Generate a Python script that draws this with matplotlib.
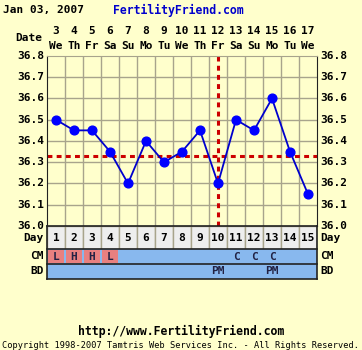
import matplotlib
matplotlib.use("Agg")
import matplotlib.pyplot as plt

# chart data
days = list(range(1, 16))
dates = [3, 4, 5, 6, 7, 8, 9, 10, 11, 12, 13, 14, 15, 16, 17]
weekdays = ["We", "Th", "Fr", "Sa", "Su", "Mo", "Tu", "We", "Th", "Fr", "Sa", "Su", "Mo", "Tu", "We"]
temps = [36.5, 36.45, 36.45, 36.35, 36.2, 36.4, 36.3, 36.35, 36.45, 36.2, 36.5, 36.45, 36.6, 36.35, 36.15]
coverline = 36.33
ovulation_day = 10
cm = ["L", "H", "H", "L", "", "", "", "", "", "", "C", "C", "C", "", ""]
bd = ["", "", "", "", "", "", "", "", "", "PM", "", "", "PM", "", ""]
yticks = [36.0, 36.1, 36.2, 36.3, 36.4, 36.5, 36.6, 36.7, 36.8]

W, H = 362, 350
BG = "#FFFFCC"
GRID = "#A8A48C"
FONT = dict(family="DejaVu Sans Mono", fontweight="bold")

fig = plt.figure(figsize=(W / 100, H / 100), dpi=100, facecolor=BG)

def px(x, y):
    return x / W, 1 - y / H

def box(l, t, r, b):
    return [l / W, 1 - b / H, (r - l) / W, (b - t) / H]

# header
fig.text(*px(3, 10), "Jan 03, 2007", fontsize=8, va="center", ha="left", **FONT)
fig.text(*px(113, 10), "FertilityFriend.com", fontsize=8.3, va="center", ha="left", color="#0000CC", **FONT)
fig.text(*px(42, 38), "Date", fontsize=8, va="center", ha="right", **FONT)

# temperature chart
ax = fig.add_axes(box(47, 56, 317, 226))
ax.set_facecolor(BG)
ax.set_xlim(0.5, 15.5)
ax.set_ylim(36.0, 36.8)
for d in range(1, 15):
    ax.axvline(d + 0.5, color=GRID, lw=1, zorder=1)
for t in yticks[1:-1]:
    ax.axhline(t, color=GRID, lw=1, zorder=1)
ax.set_xticks([])
ax.set_yticks([])
for s in ["left", "bottom", "right"]:
    ax.spines[s].set_color("#222222")
ax.spines["top"].set_color(GRID)

ax.axhline(coverline, color="#CC0000", lw=2.2, ls=(0, (1.6, 1.4)), zorder=2)
ax.axvline(ovulation_day, color="#CC0000", lw=2.2, ls=(0, (1.6, 1.4)), zorder=2)
ax.plot(days, temps, color="#0000CC", lw=1.3, marker="o", ms=6.3, mfc="#0000FF", mec="#0000FF", zorder=3)

for t in yticks:
    y = 226 - (t - 36.0) / 0.8 * 170
    fig.text(*px(44, y), f"{t:.1f}", fontsize=8, va="center", ha="right", **FONT)
    fig.text(*px(320, y), f"{t:.1f}", fontsize=8, va="center", ha="left", **FONT)

for i, d in enumerate(days):
    x = 47 + (d - 0.5) * 18
    fig.text(*px(x, 31), str(dates[i]), fontsize=8, va="center", ha="center", **FONT)
    fig.text(*px(x, 46), weekdays[i], fontsize=8, va="center", ha="center", **FONT)

# day / CM / BD table
tb = fig.add_axes(box(47, 226, 317, 279))
tb.set_xlim(0.5, 15.5)
tb.set_ylim(0, 53)
tb.axis("off")
tb.bar(days, [23] * 15, width=1, bottom=30, color="#EEEEEE", edgecolor=GRID, lw=1)
cm_colors = ["#E88080" if c in ("L", "H") else "#88B8EE" for c in cm]
tb.bar(days, [15] * 15, width=1, bottom=15, color="#88B8EE", lw=0)
tb.bar(days, [13] * 15, width=0.9, bottom=16, color=cm_colors, lw=0)
tb.bar(days, [15] * 15, width=1, bottom=0, color="#88B8EE", lw=0)
for yy in [0, 15, 30, 53]:
    tb.plot([0.5, 15.5], [yy, yy], color="#222222", lw=1.2, clip_on=False)
for xx in [0.5, 15.5]:
    tb.plot([xx, xx], [0, 53], color="#222222", lw=1.2, clip_on=False)
for i, d in enumerate(days):
    tb.text(d, 41, str(d), fontsize=8, ha="center", va="center", **FONT)
    if cm[i]:
        tb.text(d, 22.5, cm[i], fontsize=8, ha="center", va="center", color="#222244", **FONT)
    if bd[i]:
        tb.text(d, 7.5, bd[i], fontsize=8, ha="center", va="center", color="#222244", **FONT)

for lbl, y in [("Day", 238), ("CM", 256), ("BD", 271)]:
    fig.text(*px(44, y), lbl, fontsize=8, va="center", ha="right", **FONT)
    fig.text(*px(320, y), lbl, fontsize=8, va="center", ha="left", **FONT)

# footer
fig.text(*px(181, 331), "http://www.FertilityFriend.com", fontsize=8.3, ha="center", va="center", **FONT)
fig.text(*px(181, 345), "Copyright 1998-2007 Tamtris Web Services Inc. - All Rights Reserved.",
         fontsize=6.2, ha="center", va="center", family="DejaVu Sans Mono")

fig.savefig("out.png", dpi=100, facecolor=BG)
